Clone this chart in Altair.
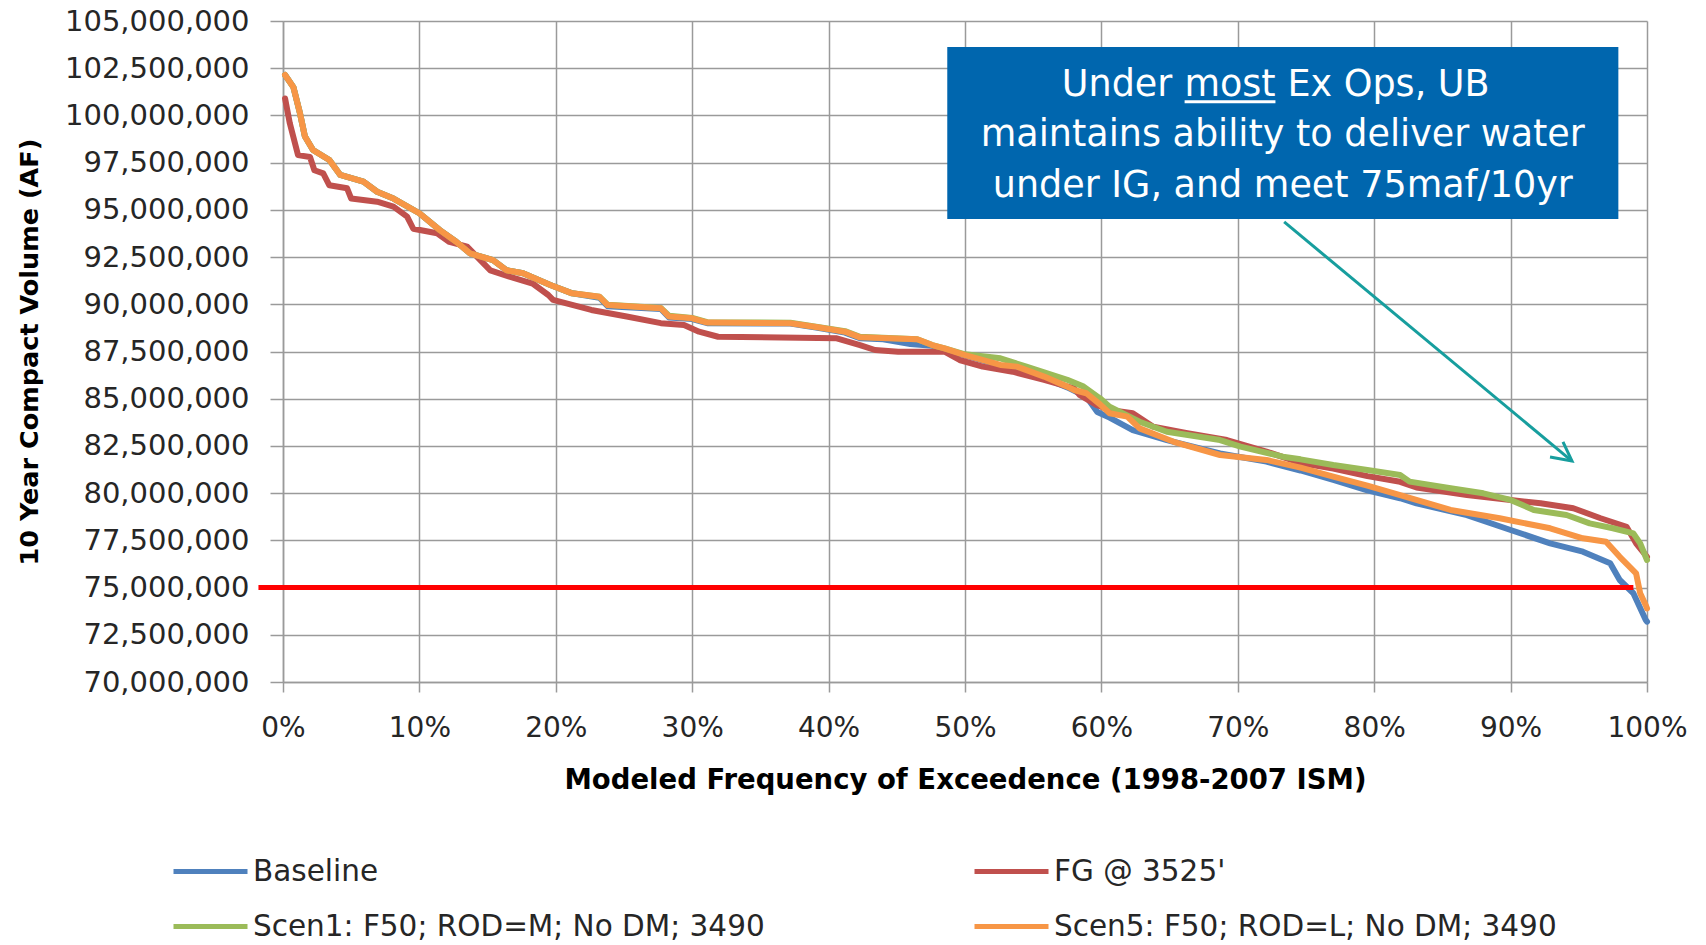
import altair as alt
import pandas as pd

# ---------------- data (x = exceedance %, y = 10-yr compact volume, million AF) -------------
series_names = ["Baseline", "FG @ 3525'", "Scen1: F50; ROD=M; No DM; 3490", "Scen5: F50; ROD=L; No DM; 3490"]
series_colors = ["#4F81BD", "#C0504D", "#9BBB59", "#F79646"]

scen5_x = [0.15, 0.76, 1.25, 1.6, 2.2, 3.4, 4.2, 5.9, 6.9, 8.1, 10.0, 11.5, 12.7, 13.7, 15.4, 16.4,
           17.6, 19.6, 21.2, 23.2, 23.8, 27.7, 28.3, 30.0, 31.1, 37.2, 39.2, 41.2, 42.3, 46.5, 47.6,
           48.5, 50.0, 52.6, 53.8, 55.8, 57.5, 58.0, 58.9, 59.9, 60.6, 61.9, 62.8, 65.3, 68.7, 72.1,
           74.6, 77.0, 79.5, 81.9, 85.6, 89.2, 92.9, 95.3, 97.0, 98.0, 99.2, 99.5, 99.9, 100.0]
scen5_y = [102.14, 101.5, 100.1, 98.9, 98.17, 97.64, 96.85, 96.5, 95.96, 95.6, 94.82, 93.93, 93.31,
           92.7, 92.34, 91.8, 91.64, 91.02, 90.58, 90.4, 89.96, 89.79, 89.35, 89.26, 89.03, 89.0,
           88.78, 88.55, 88.25, 88.15, 87.84, 87.67, 87.31, 86.79, 86.7, 86.17, 85.64, 85.46, 85.29,
           84.7, 84.23, 84.05, 83.43, 82.72, 82.02, 81.76, 81.35, 80.87, 80.4, 79.9, 79.11, 78.67,
           78.14, 77.61, 77.43, 76.63, 75.75, 74.7, 74.08, 73.9]

fg_x = [0.15, 0.5, 1.1, 1.98, 2.3, 2.95, 3.4, 4.7, 5.0, 6.9, 8.1, 9.1, 9.55, 11.3, 12.2, 13.5, 15.2,
        16.6, 18.3, 19.45, 19.8, 22.6, 25.2, 27.7, 29.4, 30.5, 31.9, 40.6, 42.3, 43.4, 45.1, 48.5,
        49.6, 51.3, 53.5, 55.8, 58.0, 58.4, 59.7, 60.6, 62.3, 63.8, 66.3, 69.2, 72.1, 74.6, 77.0,
        79.5, 81.9, 83.1, 86.8, 90.0, 92.2, 94.6, 96.6, 98.5, 99.2, 100.0]
fg_y = [100.9, 99.58, 97.9, 97.8, 97.1, 96.93, 96.3, 96.14, 95.6, 95.43, 95.17, 94.64, 94.0, 93.76,
        93.3, 93.05, 91.8, 91.46, 91.1, 90.49, 90.23, 89.7, 89.35, 89.0, 88.9, 88.55, 88.28, 88.2,
        87.84, 87.58, 87.49, 87.49, 87.05, 86.7, 86.43, 86.0, 85.55, 85.2, 84.65, 84.4, 84.23, 83.52,
        83.17, 82.81, 82.2, 81.6, 81.3, 80.9, 80.6, 80.3, 79.9, 79.64, 79.46, 79.2, 78.67, 78.22,
        77.34, 76.63]

base_x = [0.15, 0.76, 1.25, 1.6, 2.2, 3.4, 4.2, 5.9, 6.9, 8.1, 10.0, 11.5, 12.7, 13.7, 15.4, 16.4,
          17.6, 19.6, 21.2, 23.2, 23.8, 27.7, 28.3, 30.0, 31.1, 37.2, 39.2, 41.2, 42.3, 44.0, 46.0,
          47.6, 48.5, 50.0, 52.6, 53.8, 55.8, 57.5, 58.9, 59.7, 60.6, 62.3, 64.8, 68.7, 72.1, 74.6,
          77.0, 79.5, 81.9, 83.1, 86.8, 90.0, 92.9, 95.3, 97.3, 98.0, 99.0, 99.9, 100.0]
base_y = [102.14, 101.5, 100.1, 98.9, 98.17, 97.64, 96.85, 96.5, 95.96, 95.6, 94.82, 93.93, 93.31,
          92.7, 92.34, 91.8, 91.64, 91.02, 90.58, 90.35, 89.9, 89.75, 89.3, 89.22, 89.0, 88.98,
          88.75, 88.5, 88.2, 88.15, 87.9, 87.8, 87.6, 87.3, 86.75, 86.65, 86.1, 85.6, 85.1, 84.3,
          84.0, 83.34, 82.81, 82.1, 81.67, 81.2, 80.7, 80.15, 79.73, 79.46, 78.84, 78.05, 77.34,
          76.9, 76.29, 75.4, 74.7, 73.29, 73.2]

scen1_x = [0.15, 0.76, 1.25, 1.6, 2.2, 3.4, 4.2, 5.9, 6.9, 8.1, 10.0, 11.5, 12.7, 13.7, 15.4, 16.4,
           17.6, 19.6, 21.2, 23.2, 23.8, 27.7, 28.3, 30.0, 31.1, 37.2, 39.2, 41.2, 42.3, 46.5, 47.6,
           48.5, 50.0, 52.6, 54.5, 57.5, 58.7, 59.9, 60.6, 62.8, 64.8, 68.7, 70.2, 73.3, 74.6, 77.0,
           79.5, 81.9, 82.6, 85.6, 88.0, 90.0, 91.7, 94.1, 95.8, 97.5, 99.0, 99.5, 100.0]
scen1_y = [102.14, 101.5, 100.1, 98.9, 98.17, 97.64, 96.85, 96.5, 95.96, 95.6, 94.82, 93.93, 93.31,
           92.7, 92.34, 91.8, 91.64, 91.02, 90.58, 90.4, 89.98, 89.8, 89.4, 89.28, 89.05, 89.02,
           88.8, 88.58, 88.28, 88.15, 87.84, 87.67, 87.35, 87.14, 86.7, 86.0, 85.64, 85.02, 84.58,
           83.78, 83.25, 82.81, 82.46, 81.93, 81.79, 81.49, 81.23, 80.96, 80.61, 80.26, 79.99, 79.64,
           79.11, 78.84, 78.4, 78.14, 77.87, 77.34, 76.46]

x_ticks = [0, 10, 20, 30, 40, 50, 60, 70, 80, 90, 100]
y_ticks = [70, 72.5, 75, 77.5, 80, 82.5, 85, 87.5, 90, 92.5, 95, 97.5, 100, 102.5, 105]

target_value = 75.0            # 75 maf / 10 yr
target_span = [-1.8, 99.0]     # extent of the red line (in %)

box_text = ["maintains ability to deliver water", "under IG, and meet 75maf/10yr"]
box_line1 = ["Under", "most", "Ex Ops, UB"]

# ---------------- build tables -------------
frames = []
for name, xs, ys in zip(series_names, [base_x, fg_x, scen1_x, scen5_x], [base_y, fg_y, scen1_y, scen5_y]):
    frames.append(pd.DataFrame({"x": xs, "y": ys, "series": name}))

W, H = 1364, 661
FONT = "DejaVu Sans"
GRID = "#9a9a9a"

xscale = alt.Scale(domain=[0, 100], nice=False, zero=False)
yscale = alt.Scale(domain=[70, 105], nice=False, zero=False)
cscale = alt.Scale(domain=series_names, range=series_colors)

xaxis = alt.Axis(values=x_ticks, labelExpr="datum.value + '%'", title="Modeled Frequency of Exceedence (1998-2007 ISM)",
                 grid=True, gridColor=GRID, gridWidth=1.5, tickColor=GRID, tickWidth=1.5, tickSize=10,
                 domainColor=GRID, domainWidth=1.5, labelFont=FONT, labelFontSize=28, labelColor="#262626",
                 labelPadding=22, labelFlush=False, labelLimit=400, titleFont=FONT, titleFontSize=27.5,
                 titleFontWeight="bold", titleColor="#000000", titleY=84, titleBaseline="top", titleLimit=2000)
yaxis = alt.Axis(values=y_ticks, labelExpr="format(datum.value * 1000000, ',')", title="10 Year Compact Volume (AF)",
                 grid=True, gridColor=GRID, gridWidth=1.5, tickColor=GRID, tickWidth=1.5, tickSize=13,
                 domainColor=GRID, domainWidth=1.5, labelFont=FONT, labelFontSize=29, labelColor="#262626",
                 labelPadding=21, labelFlush=False, labelLimit=400, titleFont=FONT, titleFontSize=25.5,
                 titleFontWeight="bold", titleColor="#000000", titleX=-254, titleY=H / 2, titleAngle=-90,
                 titleBaseline="middle", titleAlign="center", titleLimit=2000)

legend = alt.Legend(title=None, orient="none", legendX=-112, legendY=811, columns=2, direction="horizontal",
                    columnPadding=199, rowPadding=1, symbolType="stroke", symbolSize=5476,
                    symbolStrokeWidth=5, labelFont=FONT, labelFontSize=29.5, labelColor="#262626",
                    labelOffset=3, labelLimit=2000, padding=0)


def X(field="x"):
    return alt.X(f"{field}:Q", scale=xscale, axis=xaxis)


def Y(field="y"):
    return alt.Y(f"{field}:Q", scale=yscale, axis=yaxis)


layers = []
for df in frames:
    layers.append(
        alt.Chart(df).mark_line(strokeWidth=6, strokeJoin="round", strokeCap="round").encode(
            x=X(), y=Y(), color=alt.Color("series:N", scale=cscale, legend=legend),
        )
    )

red = alt.Chart(pd.DataFrame({"x": [target_span[0]], "x2": [target_span[1]], "y": [target_value]})).mark_rule(
    color="#FF0000", strokeWidth=5).encode(x=X(), x2="x2:Q", y=Y())

# annotation box (data coordinates)
box = alt.Chart(pd.DataFrame({"x": [48.7], "x2": [97.9], "y": [94.52], "y2": [103.62]})).mark_rect(
    color="#0066AE").encode(x=X(), x2="x2:Q", y=Y(), y2="y2:Q")

l1 = pd.DataFrame({"t": box_line1, "x": [65.2, 69.43, 73.64], "y": [101.03] * 3, "a": ["right", "center", "left"]})
line1 = []
for align in ["right", "center", "left"]:
    sub = l1[l1.a == align]
    line1.append(alt.Chart(sub).mark_text(align=align, baseline="alphabetic", font=FONT, fontSize=36.5,
                                          color="white").encode(x=X(), y=Y(), text="t:N"))
lines23 = alt.Chart(pd.DataFrame({"t": box_text, "x": [73.3, 73.3], "y": [98.36, 95.66]})).mark_text(
    align="center", baseline="alphabetic", font=FONT, fontSize=36.5, color="white").encode(
    x=X(), y=Y(), text="t:N")
underline = alt.Chart(pd.DataFrame({"x": [66.1], "x2": [72.76], "y": [100.72]})).mark_rule(
    color="white", strokeWidth=3).encode(x=X(), x2="x2:Q", y=Y())

arrow_shaft = alt.Chart(pd.DataFrame({"x": [73.4], "x2": [94.5], "y": [94.36], "y2": [81.7]})).mark_rule(
    color="#179E9E", strokeWidth=3).encode(x=X(), x2="x2:Q", y=Y(), y2="y2:Q")
arrow_head = alt.Chart(pd.DataFrame({"x": [93.84, 94.5, 92.89], "y": [82.71, 81.7, 81.91], "o": [0, 1, 2]})).mark_line(
    color="#179E9E", strokeWidth=3, strokeJoin="miter").encode(x=X(), y=Y(), order="o:Q")

chart = alt.layer(*layers, red, box, *line1, lines23, underline, arrow_shaft, arrow_head).properties(
    width=W, height=H, autosize=alt.AutoSizeParams(type="none"),
    padding={"left": 283, "top": 21, "right": 59, "bottom": 263}, background="white"
).configure_view(stroke=None)

chart.save("out.html", embed_options={"renderer": "svg", "actions": False})
